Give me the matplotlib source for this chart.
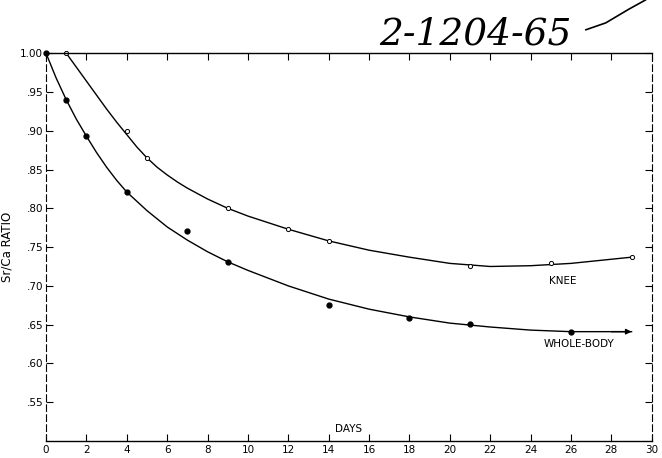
import matplotlib
matplotlib.use("Agg")
import matplotlib.pyplot as plt
from matplotlib.lines import Line2D

# ---- data ----
wb_days = [0, 1, 2, 4, 7, 9, 14, 18, 21, 26]
wb_vals = [1.00, 0.94, 0.893, 0.821, 0.771, 0.731, 0.675, 0.658, 0.651, 0.640]

knee_days = [1, 4, 5, 9, 12, 14, 21, 25, 29]
knee_vals = [1.00, 0.90, 0.865, 0.800, 0.773, 0.758, 0.725, 0.729, 0.737]

# fitted curves as drawn in the original
wb_curve_days = [0, 0.5, 1, 1.5, 2, 2.5, 3, 3.5, 4, 5, 6, 7, 8, 9, 10, 12, 14, 16, 18,
                 20, 22, 24, 26, 29]
wb_curve_vals = [1.00, 0.968, 0.94, 0.915, 0.893, 0.872, 0.853, 0.836, 0.821, 0.797,
                 0.776, 0.759, 0.744, 0.731, 0.720, 0.700, 0.683, 0.670, 0.660, 0.652,
                 0.647, 0.643, 0.641, 0.641]

knee_curve_days = [1, 1.5, 2, 2.5, 3, 3.5, 4, 4.5, 5, 5.5, 6, 6.5, 7, 8, 9, 10, 12, 14,
                   16, 18, 20, 22, 24, 26, 29]
knee_curve_vals = [1.00, 0.982, 0.964, 0.946, 0.928, 0.911, 0.895, 0.879, 0.865, 0.853,
                   0.843, 0.834, 0.826, 0.812, 0.800, 0.790, 0.773, 0.758, 0.746, 0.737,
                   0.729, 0.725, 0.726, 0.729, 0.737]

x_ticks = list(range(0, 31, 2))
y_ticks = [0.55, 0.60, 0.65, 0.70, 0.75, 0.80, 0.85, 0.90, 0.95, 1.00]
y_tick_labels = [".55", ".60", ".65", ".70", ".75", ".80", ".85", ".90", ".95", "1.00"]

fig = plt.figure(figsize=(6.62, 4.58), dpi=100)
ax = fig.add_axes([0.0695, 0.037, 0.915, 0.847])

ax.set_xlim(0, 30)
ax.set_ylim(0.50, 1.00)

# curves
ax.plot(wb_curve_days, wb_curve_vals, color="black", lw=1.0)
ax.plot(knee_curve_days, knee_curve_vals, color="black", lw=1.0)

# points
ax.plot(wb_days, wb_vals, "o", color="black", ms=3.5, clip_on=False)
ax.plot(knee_days, knee_vals, "o", mfc="white", mec="black", mew=0.7, ms=3, clip_on=False)

# arrow at end of whole-body curve
ax.annotate("", xy=(wb_curve_days[-1], wb_curve_vals[-1]),
            xytext=(wb_curve_days[-2] + 2, wb_curve_vals[-1]),
            arrowprops=dict(arrowstyle="-|>", color="black", lw=1.0,
                            mutation_scale=8, shrinkA=0, shrinkB=0))

# ticks
ax.set_xticks(x_ticks)
ax.set_xticklabels([str(t) for t in x_ticks])
ax.set_yticks(y_ticks)
ax.set_yticklabels(y_tick_labels)
ax.tick_params(axis="both", direction="in", length=5, width=0.8, labelsize=7.5,
               top=True, right=True, pad=2)
ax.tick_params(axis="x", pad=3)

for side in ["top", "bottom"]:
    ax.spines[side].set_linewidth(1.0)
for side in ["left", "right"]:
    ax.spines[side].set_linewidth(0.8)
    ax.spines[side].set_linestyle((0, (6, 3)))

# labels
ax.set_ylabel("Sr/Ca RATIO", fontsize=8.5, labelpad=5)
ax.text(15, 0.515, "DAYS", ha="center", va="center", fontsize=7.5)
ax.text(25.6, 0.706, "KNEE", ha="center", va="center", fontsize=7.5)
ax.text(26.4, 0.631, "WHOLE-BODY", ha="center", va="top", fontsize=7.5)

# handwritten note
fig.text(0.573, 0.925, "2-1204-65", fontsize=27, style="italic",
         family="DejaVu Serif", ha="left", va="center")
fig.add_artist(Line2D([0.885, 0.915, 0.95, 0.975], [0.935, 0.95, 0.98, 1.0],
                      color="black", lw=1.2, transform=fig.transFigure))

fig.savefig("out.png", dpi=100, facecolor="white")
